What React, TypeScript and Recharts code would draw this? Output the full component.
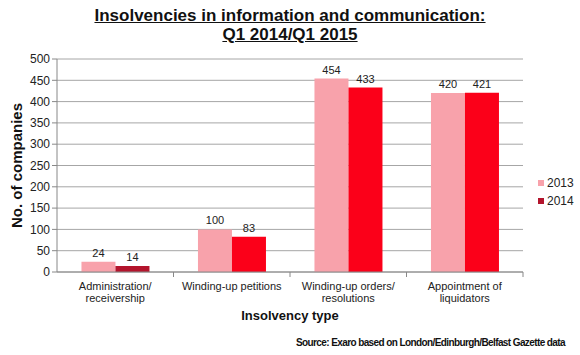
import { BarChart, Bar, XAxis, YAxis, CartesianGrid, LabelList, Cell } from 'recharts';

const categories = [
  ['Administration/', 'receivership'],
  ['Winding-up petitions'],
  ['Winding-up orders/', 'resolutions'],
  ['Appointment of', 'liquidators'],
];
const values2013 = [24, 100, 454, 420];
const values2014 = [14, 83, 433, 421];
const yTicks = [0, 50, 100, 150, 200, 250, 300, 350, 400, 450, 500];
const seriesNames = ['2013', '2014'];

const data = categories.map((lines, i) => ({
  name: lines.join(' '),
  lines,
  y2013: values2013[i],
  y2014: values2014[i],
}));

const PINK = '#f8a2ab';
const DARK = '#b3142c';
const RED = '#fb0019';
const FONT = '"Liberation Sans", Arial, sans-serif';

const W = 580;
const H = 355;
const LEFT = 57;
const RIGHT = 57;

function CategoryTick(props: any) {
  const { x, y, payload, index } = props;
  const lines: string[] = data[index]?.lines ?? [payload.value];
  const half = (W - LEFT - RIGHT) / categories.length / 2;
  return (
    <g>
      <line x1={x + half} y1={y - 8} x2={x + half} y2={y - 3} stroke="#888" />
      <text x={x} y={y} textAnchor="middle" fill="#222" fontSize={11} fontFamily={FONT}>
        {lines.map((l, i) => (
          <tspan key={i} x={x} dy={i === 0 ? 10 : 12}>
            {l}
          </tspan>
        ))}
      </text>
    </g>
  );
}

export default function App() {
  return (
    <div style={{ position: 'absolute', left: 0, top: 0, width: W, height: H, background: '#fff', fontFamily: FONT }}>
      <div
        style={{
          position: 'absolute',
          left: 0,
          top: 6,
          width: W,
          textAlign: 'center',
          fontWeight: 'bold',
          fontSize: 17,
          lineHeight: '19px',
          textDecoration: 'underline',
          color: '#111',
        }}
      >
        Insolvencies in information and communication:
        <br />
        Q1 2014/Q1 2015
      </div>
      <BarChart
        width={W}
        height={H}
        data={data}
        margin={{ top: 59, right: RIGHT, left: 0, bottom: 0 }}
        barCategoryGap="21%"
        barGap={0}
      >
        <CartesianGrid vertical={false} stroke="#a6a6a6" />
        <XAxis
          dataKey="name"
          height={83}
          tick={<CategoryTick />}
          tickLine={false}
          axisLine={{ stroke: '#888' }}
          interval={0}
          label={{
            value: 'Insolvency type',
            position: 'insideTop',
            offset: 39,
            fill: '#111',
            fontSize: 13,
            fontWeight: 'bold',
            fontFamily: FONT,
          }}
        />
        <YAxis
          width={LEFT}
          domain={[0, 500]}
          ticks={yTicks}
          interval={0}
          tick={{ fill: '#222', fontSize: 12, fontFamily: FONT }}
          tickLine={{ stroke: '#888' }}
          tickSize={5}
          axisLine={{ stroke: '#888' }}
          label={{
            value: 'No. of companies',
            angle: -90,
            position: 'insideLeft',
            textAnchor: 'middle',
            offset: 17,
            fill: '#111',
            fontSize: 15,
            fontWeight: 'bold',
            fontFamily: FONT,
          }}
        />
        <Bar dataKey="y2013" name="2013" fill={PINK} isAnimationActive={false}>
          <LabelList dataKey="y2013" position="top" fill="#222" fontSize={11} fontFamily={FONT} />
        </Bar>
        <Bar dataKey="y2014" name="2014" fill={DARK} isAnimationActive={false}>
          {data.map((_, i) => (
            <Cell key={i} fill={i === 0 ? DARK : RED} />
          ))}
          <LabelList dataKey="y2014" position="top" fill="#222" fontSize={11} fontFamily={FONT} />
        </Bar>
      </BarChart>
      {/* legend */}
      <div style={{ position: 'absolute', left: 538, top: 174, fontSize: 12, color: '#222', lineHeight: '18px' }}>
        {seriesNames.map((n, i) => (
          <div key={n} style={{ display: 'flex', alignItems: 'center' }}>
            <span
              style={{ display: 'inline-block', width: 6, height: 6, background: i === 0 ? PINK : DARK, marginRight: 3 }}
            />
            {n}
          </div>
        ))}
      </div>
      <div
        style={{
          position: 'absolute',
          right: 15,
          top: 337,
          fontSize: 10,
          fontWeight: 'bold',
          color: '#111',
          letterSpacing: -0.6,
          whiteSpace: 'nowrap',
        }}
      >
        Source: Exaro based on London/Edinburgh/Belfast Gazette data
      </div>
    </div>
  );
}
